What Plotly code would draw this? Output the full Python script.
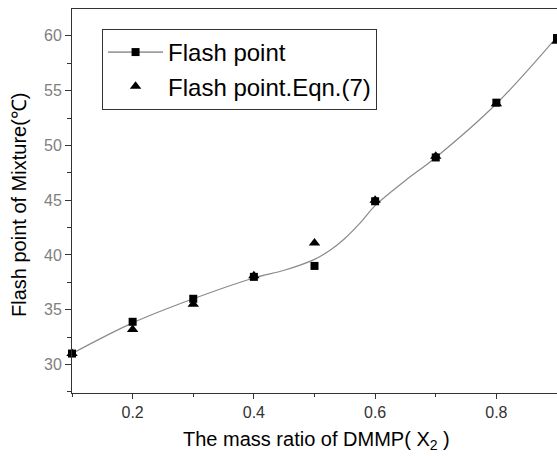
import plotly.graph_objects as go

# Measured flash points (squares)
x_meas = [0.1, 0.2, 0.3, 0.4, 0.5, 0.6, 0.7, 0.8, 0.9]
y_meas = [31.0, 33.9, 36.0, 38.0, 39.0, 44.9, 48.9, 53.9, 59.8]

# Flash point from Eqn.(7) (triangles)
x_eqn = [0.1, 0.2, 0.3, 0.4, 0.5, 0.6, 0.7, 0.8, 0.9]
y_eqn = [31.0, 33.2, 35.5, 38.1, 41.1, 45.0, 49.0, 53.8, 59.5]

# Smoothed curve
x_curve = [0.1, 0.2, 0.3, 0.4, 0.45, 0.5, 0.525, 0.55, 0.575, 0.6, 0.65, 0.7, 0.8, 0.9]
y_curve = [31.0, 33.8, 36.0, 37.9, 38.6, 39.6, 40.4, 41.5, 42.9, 44.5, 46.8, 48.9, 53.8, 59.9]

x_ticks = [0.2, 0.4, 0.6, 0.8]
y_ticks = [30, 35, 40, 45, 50, 55, 60]

FONT = "Liberation Sans, Arial, sans-serif"

fig = go.Figure()
fig.add_trace(go.Scatter(
    x=x_curve, y=y_curve, mode="lines",
    line=dict(color="#8a8a8a", width=1.2, shape="spline", smoothing=1.0),
    showlegend=False, hoverinfo="skip", cliponaxis=False))
fig.add_trace(go.Scatter(
    x=x_eqn, y=y_eqn, mode="markers",
    marker=dict(symbol="triangle-up", size=10, color="black"),
    name="Flash point.Eqn.(7)", showlegend=False, cliponaxis=False))
fig.add_trace(go.Scatter(
    x=x_meas, y=y_meas, mode="markers",
    marker=dict(symbol="square", size=8, color="black"),
    name="Flash point", showlegend=False, cliponaxis=False))
# legend entries
fig.add_trace(go.Scatter(
    x=[None], y=[None], mode="lines+markers", name="Flash point",
    line=dict(color="#555555", width=1), marker=dict(symbol="square", size=8, color="black")))
fig.add_trace(go.Scatter(
    x=[None], y=[None], mode="markers", name="Flash point.Eqn.(7)",
    marker=dict(symbol="triangle-up", size=10, color="black")))

fig.update_layout(
    width=557, height=456,
    margin=dict(l=72, r=0, t=9, b=63, autoexpand=False),
    paper_bgcolor="white", plot_bgcolor="white",
    font=dict(family=FONT, color="black"),
    legend=dict(
        x=0.062, y=0.948, xanchor="left", yanchor="top",
        bgcolor="white", bordercolor="#333333", borderwidth=1,
        font=dict(family=FONT, size=24, color="black"),
        itemwidth=55, tracegroupgap=0,
    ),
    xaxis=dict(
        range=[0.1, 0.9], tickvals=x_ticks, ticktext=["0.2", "0.4", "0.6", "0.8"],
        showgrid=False, zeroline=False, automargin=False,
        showline=True, linecolor="#333333", linewidth=1, mirror=True,
        ticks="outside", ticklen=5, tickcolor="#333333",
        tickfont=dict(family=FONT, size=16, color="#333333"),
        minor=dict(tickvals=[0.1, 0.3, 0.5, 0.7], ticks="outside", ticklen=3, tickcolor="#333333"),
    ),
    yaxis=dict(
        range=[27.4, 62.45], tickvals=y_ticks,
        showgrid=False, zeroline=False, automargin=False,
        showline=True, linecolor="#333333", linewidth=1, mirror=False,
        ticks="outside", ticklen=6, tickcolor="#333333",
        tickfont=dict(family=FONT, size=16, color="#808080"),
        minor=dict(dtick=2.5, tick0=27.5, ticks="outside", ticklen=4, tickcolor="#333333"),
    ),
    annotations=[
        dict(text="The mass ratio of DMMP( X<sub>2</sub> )", xref="paper", yref="paper",
             x=(316 - 72) / 485, y=-(440 - 393) / 384, xanchor="center", yanchor="middle",
             showarrow=False, font=dict(family=FONT, size=20, color="black")),
        dict(text="Flash point of Mixture(℃)", xref="paper", yref="paper",
             x=-(72 - 19) / 485, y=(393 - 205) / 384, xanchor="center", yanchor="middle",
             textangle=-90, showarrow=False, font=dict(family=FONT, size=20, color="black")),
    ],
)

fig.write_html("out.html", config={"displayModeBar": False},
               post_script="document.body.style.margin='0';document.body.style.overflow='hidden';")
